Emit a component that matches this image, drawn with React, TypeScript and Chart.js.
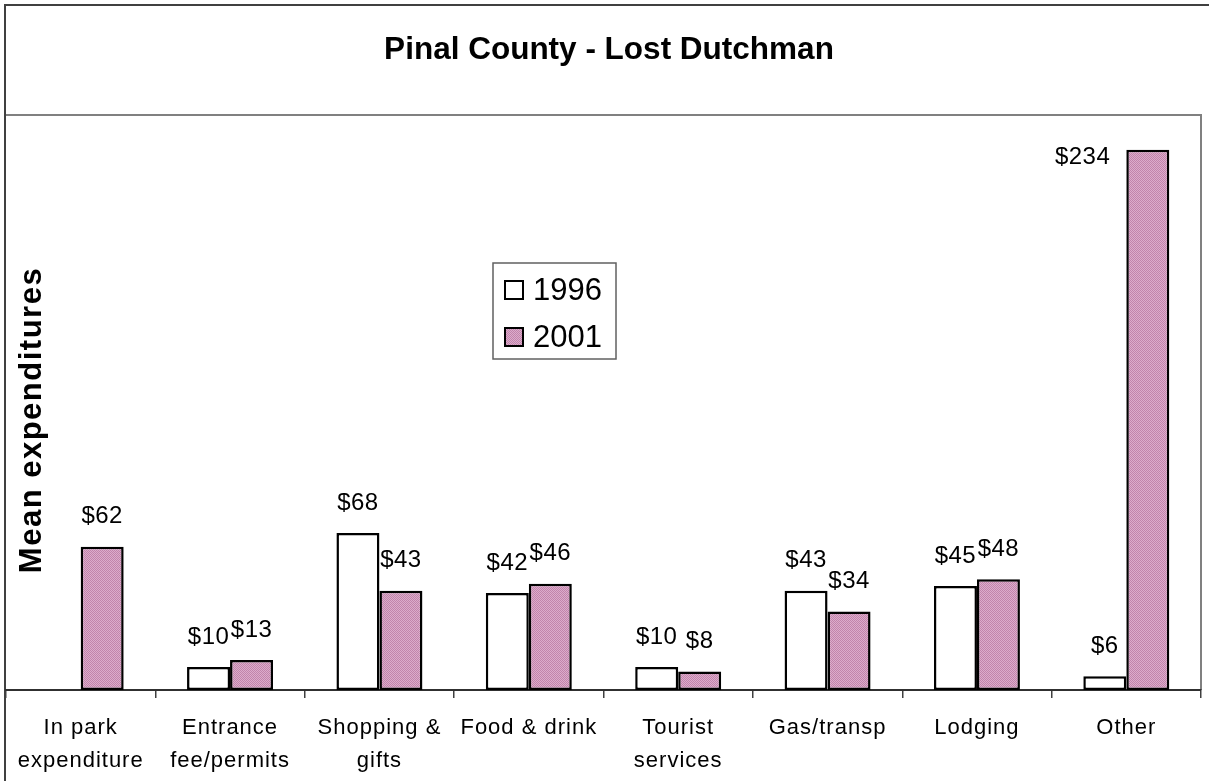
import React, { useEffect, useRef } from "react";
import { Chart, registerables } from "chart.js";

Chart.register(...registerables);

const TITLE = "Pinal County - Lost Dutchman";
const Y_TITLE = "Mean expenditures";
const categories: string[][] = [
  ["In park", "expenditure"],
  ["Entrance", "fee/permits"],
  ["Shopping &", "gifts"],
  ["Food & drink"],
  ["Tourist", "services"],
  ["Gas/transp"],
  ["Lodging"],
  ["Other"],
];
const seriesNames = ["1996", "2001"];
const values1996: (number | null)[] = [null, 10, 68, 42, 10, 43, 45, 6];
const values2001: (number | null)[] = [62, 13, 43, 46, 8, 34, 48, 234];
const yMin = 0;
const yMax = 249;

const FONT = '"Liberation Sans", Arial, sans-serif';

function makePattern(ctx: CanvasRenderingContext2D) {
  const pc = document.createElement("canvas");
  pc.width = 2;
  pc.height = 2;
  const g = pc.getContext("2d")!;
  g.fillStyle = "#dcaccb";
  g.fillRect(0, 0, 2, 2);
  g.fillStyle = "#c184ab";
  g.fillRect(0, 0, 1, 1);
  g.fillRect(1, 1, 1, 1);
  return ctx.createPattern(pc, "repeat")!;
}

export default function App() {
  const ref = useRef<HTMLCanvasElement>(null);

  useEffect(() => {
    const canvas = ref.current!;
    const ctx = canvas.getContext("2d")!;
    const pink = makePattern(ctx);

    const framePlugin = {
      id: "frame",
      beforeDraw(chart: any) {
        const c = chart.ctx;
        const a = chart.chartArea;
        c.save();
        c.fillStyle = "#ffffff";
        c.fillRect(0, 0, chart.width, chart.height);
        c.strokeStyle = "#404040";
        c.lineWidth = 2;
        c.strokeRect(5, 5, chart.width + 10, chart.height + 10);
        c.strokeStyle = "#808080";
        c.lineWidth = 2;
        c.beginPath();
        c.moveTo(a.left, a.top);
        c.lineTo(a.right, a.top);
        c.lineTo(a.right, a.bottom);
        c.stroke();
        c.fillStyle = "#000";
        c.font = `bold 31.5px ${FONT}`;
        c.textAlign = "center";
        c.textBaseline = "middle";
        c.fillText(TITLE, 609, 50);
        c.save();
        c.translate(32, 420);
        c.rotate(-Math.PI / 2);
        c.font = `bold 31px ${FONT}`;
        (c as any).letterSpacing = "1.5px";
        c.fillText(Y_TITLE, 0, 0);
        c.restore();
        c.restore();
        (c as any).letterSpacing = "1px";
      },
      afterDatasetsDraw(chart: any) {
        const c = chart.ctx;
        const a = chart.chartArea;
        c.save();
        (c as any).letterSpacing = "0.5px";
        c.font = `24px ${FONT}`;
        c.fillStyle = "#000";
        c.textBaseline = "middle";
        chart.data.datasets.forEach((ds: any, di: number) => {
          const meta = chart.getDatasetMeta(di);
          meta.data.forEach((bar: any, i: number) => {
            const v = ds.data[i];
            if (v === null || v === undefined) return;
            const text = "$" + v;
            const ly = bar.y - 30;
            if (ly < a.top + 40) {
              c.textAlign = "right";
              c.fillText(text, bar.x - bar.width / 2 - 16, bar.y + 8);
            } else {
              c.textAlign = "center";
              c.fillText(text, bar.x, ly);
            }
          });
        });
        c.strokeStyle = "#606060";
        c.lineWidth = 1.5;
        c.fillStyle = "#fff";
        c.fillRect(493, 263, 123, 96);
        c.strokeRect(493, 263, 123, 96);
        const fills = ["#ffffff", pink];
        const rows = [290, 337];
        (c as any).letterSpacing = "0px";
        c.font = `31px ${FONT}`;
        c.textAlign = "left";
        seriesNames.forEach((name, k) => {
          c.fillStyle = fills[k] as any;
          c.fillRect(505, rows[k] - 9, 18, 18);
          c.strokeStyle = "#000";
          c.lineWidth = 2;
          c.strokeRect(505, rows[k] - 9, 18, 18);
          c.fillStyle = "#000";
          c.fillText(name, 533, rows[k] + 1);
        });
        c.restore();
        (c as any).letterSpacing = "1px";
      },
      afterDraw(chart: any) {
        (chart.ctx as any).letterSpacing = "0px";
      },
    };

    const chart = new Chart(canvas, {
      type: "bar",
      data: {
        labels: categories,
        datasets: [
          {
            label: seriesNames[0],
            data: values1996,
            backgroundColor: "#ffffff",
            borderColor: "#000000",
            borderWidth: 2.5,
            borderSkipped: false,
          },
          {
            label: seriesNames[1],
            data: values2001,
            backgroundColor: pink,
            borderColor: "#000000",
            borderWidth: 2.5,
            borderSkipped: false,
          },
        ],
      },
      options: {
        responsive: false,
        animation: false,
        devicePixelRatio: 1,
        layout: { padding: { left: 6, right: 8, top: 115, bottom: 0 } },
        plugins: {
          legend: { display: false },
          title: { display: false },
          tooltip: { enabled: false },
        },
        datasets: {
          bar: { categoryPercentage: 0.5756, barPercentage: 1 },
        },
        scales: {
          x: {
            offset: true,
            grid: {
              display: true,
              offset: true,
              drawOnChartArea: false,
              drawTicks: true,
              tickLength: 8,
              color: "#404040",
              lineWidth: 1.5,
            },
            border: { display: true, color: "#303030", width: 2 },
            ticks: {
              color: "#000",
              font: { family: FONT, size: 22, lineHeight: 1.5 },
              padding: 13,
              maxRotation: 0,
              minRotation: 0,
              autoSkip: false,
            },
            afterFit(scale: any) {
              scale.height = 91;
            },
          },
          y: {
            display: false,
            min: yMin,
            max: yMax,
          },
        },
      },
      plugins: [framePlugin],
    });

    return () => chart.destroy();
  }, []);

  return (
    <div style={{ position: "absolute", left: 0, top: 0, width: 1209, height: 781, background: "#fff" }}>
      <canvas ref={ref} width={1209} height={781} style={{ display: "block" }} />
    </div>
  );
}
